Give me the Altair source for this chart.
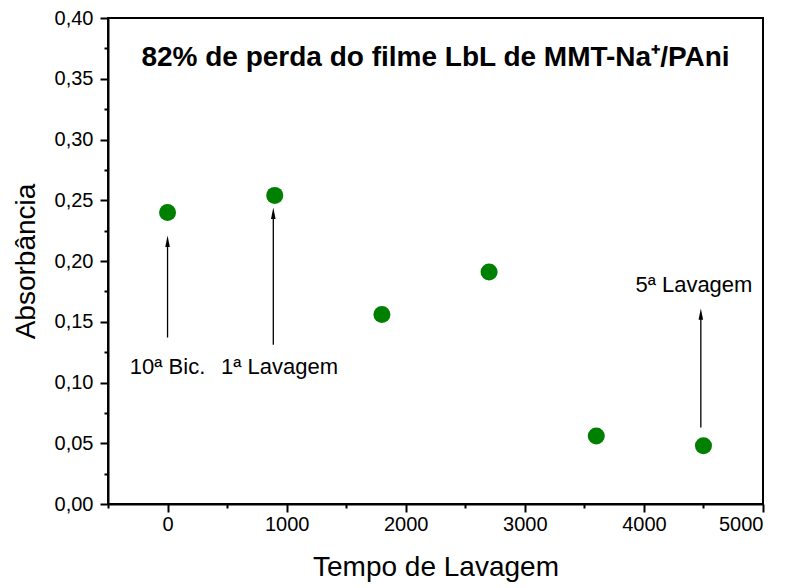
import altair as alt
import pandas as pd

tempo = [0, 900, 1800, 2700, 3600, 4500]
absorb = [0.240, 0.254, 0.156, 0.191, 0.056, 0.048]

label_text = ["10ª Bic.", "1ª Lavagem", "5ª Lavagem"]
label_x = [0, 940, 4420]
label_y = [0.113, 0.113, 0.180]

arrow_x = [0, 888, 4478]
arrow_y0 = [0.137, 0.131, 0.063]
arrow_y1 = [0.221, 0.244, 0.161]

title_text = "82% de perda do filme LbL de MMT-Na⁺/PAni"
title_x = [2250]
title_y = [0.367]

x_major = [0, 1000, 2000, 3000, 4000, 5000]
x_minor = [-500, 500, 1500, 2500, 3500, 4500]
y_major = [0.0, 0.05, 0.10, 0.15, 0.20, 0.25, 0.30, 0.35, 0.40]
y_minor = [0.025, 0.075, 0.125, 0.175, 0.225, 0.275, 0.325, 0.375]

FONT = "Liberation Sans"
HEAD = 0.0047

pts = pd.DataFrame({"t": tempo, "a": absorb})
lab = pd.DataFrame({"t": label_x, "a": label_y, "txt": label_text})
arr = pd.DataFrame({"t": arrow_x, "a0": arrow_y0,
                    "a1": [v - 0.006 for v in arrow_y1],
                    "ah": [v - HEAD for v in arrow_y1]})
ttl = pd.DataFrame({"t": title_x, "a": title_y, "txt": [title_text]})

xs = alt.Scale(domain=[-500, 5000], nice=False, zero=False)
ys = alt.Scale(domain=[0, 0.40], nice=False, zero=False)

x_axis = alt.Axis(values=x_major, format="d", orient="bottom", title="Tempo de Lavagem",
                  tickSize=8, tickWidth=2, domainWidth=2, domainColor="black", tickColor="black",
                  labelFont=FONT, labelFontSize=20, labelColor="black", labelPadding=2,
                  titleFont=FONT, titleFontSize=28, titleFontWeight="normal", titleColor="black",
                  titlePadding=19, grid=False)
y_axis = alt.Axis(values=y_major, orient="left", title="Absorbância",
                  labelExpr="replace(format(datum.value, '.2f'), '.', ',')",
                  tickSize=8, tickWidth=2, domainWidth=2, domainColor="black", tickColor="black",
                  labelFont=FONT, labelFontSize=20, labelColor="black", labelPadding=7,
                  titleFont=FONT, titleFontSize=28, titleFontWeight="normal", titleColor="black",
                  titlePadding=14, grid=False)
x_minor_axis = alt.Axis(values=x_minor, orient="bottom", labels=False, title=None,
                        tickSize=4, tickWidth=2, domain=False, tickColor="black", grid=False)
y_minor_axis = alt.Axis(values=y_minor, orient="left", labels=False, title=None,
                        tickSize=4, tickWidth=2, domain=False, tickColor="black", grid=False)

points = alt.Chart(pts).mark_circle(color="#008000", opacity=1, size=290).encode(
    x=alt.X("t:Q", scale=xs, axis=x_axis),
    y=alt.Y("a:Q", scale=ys, axis=y_axis),
)

minor = alt.Chart(pts).mark_circle(opacity=0).encode(
    x=alt.X("t:Q", scale=xs, axis=x_minor_axis),
    y=alt.Y("a:Q", scale=ys, axis=y_minor_axis),
)

lines = alt.Chart(arr).mark_rule(color="black", strokeWidth=1.3).encode(
    x=alt.X("t:Q", scale=xs, axis=None),
    y=alt.Y("a0:Q", scale=ys, axis=None),
    y2="a1:Q",
)

heads = alt.Chart(arr).mark_point(shape="M0,-1L0.4,1L-0.4,1Z", filled=True,
                                  color="black", opacity=1, size=130).encode(
    x=alt.X("t:Q", scale=xs, axis=None),
    y=alt.Y("ah:Q", scale=ys, axis=None),
)

labels = alt.Chart(lab).mark_text(font=FONT, fontSize=22, color="black",
                                  align="center", baseline="middle").encode(
    x=alt.X("t:Q", scale=xs, axis=None),
    y=alt.Y("a:Q", scale=ys, axis=None),
    text="txt:N",
)

title = alt.Chart(ttl).mark_text(font=FONT, fontSize=28, fontWeight="bold", color="black",
                                 align="center", baseline="middle").encode(
    x=alt.X("t:Q", scale=xs, axis=None),
    y=alt.Y("a:Q", scale=ys, axis=None),
    text="txt:N",
)

chart = alt.layer(points, minor, lines, heads, labels, title).resolve_axis(
    x="independent", y="independent"
).properties(
    width=655, height=486,
    autosize=alt.AutoSizeParams(type="none"),
    padding={"left": 108, "top": 18, "right": 24, "bottom": 84},
    background="white",
).configure_view(stroke="black", strokeWidth=2)

chart.save("out.html", embed_options={"renderer": "svg", "actions": False})
